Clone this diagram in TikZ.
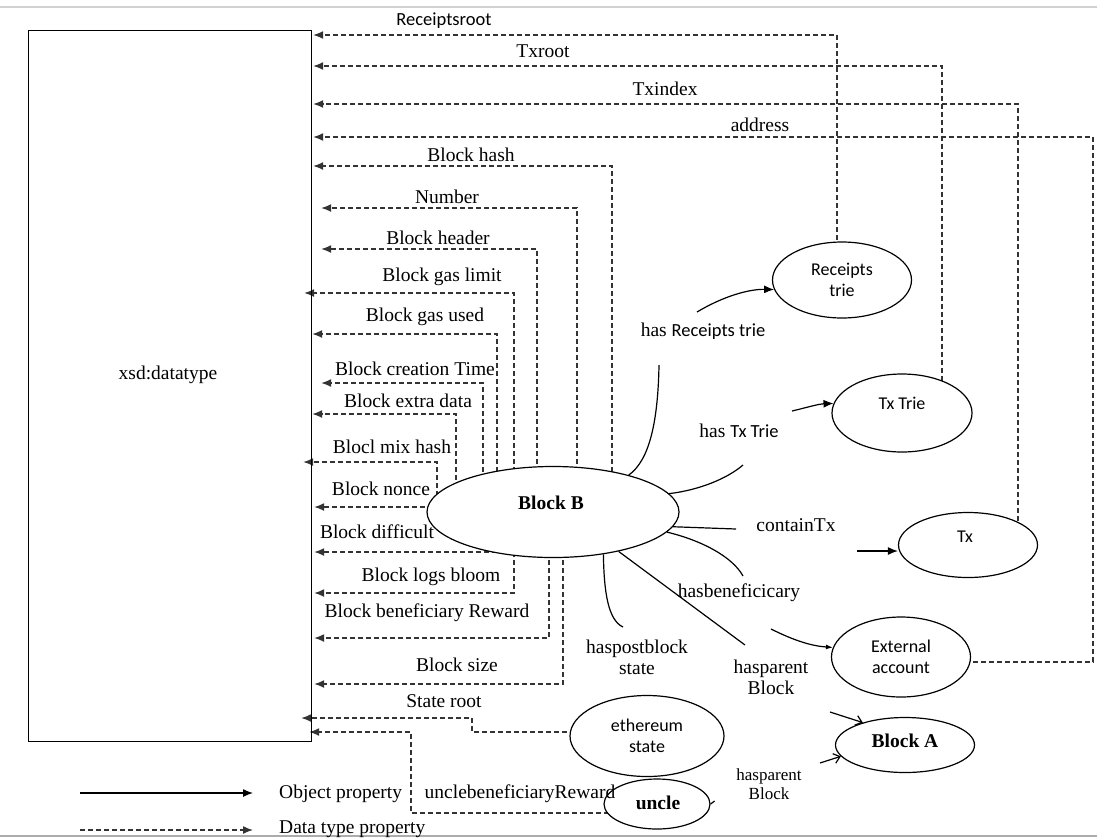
\documentclass[tikz,border=0pt]{standalone}
\usepackage{fontspec}
\setmainfont{Liberation Serif}
\newfontfamily\sfc{Carlito}
\newfontfamily\bserif{Liberation Serif Bold}
\usetikzlibrary{arrows.meta,calc,shapes.geometric}
\pgfdeclarelayer{bg}
\pgfsetlayers{bg,main}
\begin{document}
\begin{tikzpicture}[x=1pt,y=-1pt,
  lbl/.style={font=\fontsize{19.5}{21}\selectfont, inner sep=0pt, align=center},
  smlbl/.style={font=\fontsize{17}{19}\selectfont, inner sep=0pt, align=center},
  blbl/.style={font=\bserif\fontsize{19.5}{21}\selectfont, inner sep=0pt},
  slbl/.style={font=\sfc\fontsize{18}{21}\selectfont, inner sep=0pt, align=center},
  ell/.style={ellipse, draw, line width=1.2pt, fill=white, inner sep=0pt},
  dt/.style={-{Latex[length=10pt,width=8pt]}, dash pattern=on 5pt off 3pt, line width=1.4pt, draw=black!80},
  op/.style={line width=1.2pt},
  opa/.style={op, -{Latex[length=10pt,width=8pt]}},
  opo/.style={op, -{Straight Barb[length=6pt,width=10pt]}},
]
\useasboundingbox (0,0) rectangle (1097,839);
\draw[gray!35, line width=1.5pt] (0,7) -- (1097,7);
\draw[gray!65, line width=1.5pt] (0,836) -- (1097,836);

% main box
\node[draw, line width=1.2pt, minimum width=283pt, minimum height=711pt, inner sep=0pt, anchor=north west] (rect) at (28,30) {};
\node[lbl] (xsd) at (168,375) {xsd:datatype};

% ellipses
\node[ell, minimum width=252pt, minimum height=91pt] (BB) at (553,512) {};
\node[blbl] (BBl) at (551,503) {Block B};
\node[ell, slbl, minimum width=139pt, minimum height=76pt] (RT) at (842,280) {Receipts\\trie};
\node[ell, minimum width=140pt, minimum height=78pt] (TT) at (902,413) {};
\node[slbl] (TTl) at (902,403) {Tx Trie};
\node[ell, minimum width=139pt, minimum height=65pt] (TX) at (968,545) {};
\node[slbl] (TXl) at (965,537) {Tx};
\node[ell, slbl, minimum width=139pt, minimum height=80pt] (EA) at (901,657) {External\\account};
\node[ell, minimum width=139pt, minimum height=55pt] (BA) at (905,745) {};
\node[blbl] (BAl) at (905,741) {Block A};
\node[ell, slbl, minimum width=154pt, minimum height=81pt] (eth) at (647,736) {ethereum\\state};
\node[ell, minimum width=106pt, minimum height=50pt] (uncle) at (657,804) {};
\node[blbl] (unclel) at (658,803) {uncle};

% data type property labels
\node[slbl, font=\sfc\fontsize{18.5}{21}\selectfont] (l1) at (444,21) {Receiptsroot};
\node[lbl] (l2) at (543,51) {Txroot};
\node[lbl] (l3) at (665,89) {Txindex};
\node[lbl] (l4) at (760,125) {address};
\node[lbl] (l5) at (471,155) {Block hash};
\node[lbl] (l6) at (447,197) {Number};
\node[lbl] (l7) at (438,238) {Block header};
\node[lbl] (l8) at (442,277) {Block gas limit};
\node[lbl] (l9) at (425,317) {Block gas used};
\node[lbl] (l10) at (415,369) {Block creation Time};
\node[lbl] (l11) at (408,401) {Block extra data};
\node[lbl] (l12) at (392,447) {Blocl mix hash};
\node[lbl] (l13) at (381,489) {Block nonce};
\node[lbl] (l14) at (377,532) {Block difficult};
\node[lbl] (l15) at (431,577) {Block logs bloom};
\node[lbl] (l16) at (427,613) {Block beneficiary Reward};
\node[lbl] (l17) at (457,665) {Block size};
\node[lbl] (l18) at (444,701) {State root};
\node[lbl] (l19) at (520,794) {unclebeneficiaryReward};

% object property labels
\node[lbl] (o1) at (703,331) {has {\sfc\fontsize{18.5}{21}\selectfont Receipts trie}};
\node[lbl] (o2) at (739,431) {has {\sfc\fontsize{18.5}{21}\selectfont Tx Trie}};
\node[lbl] (o3) at (796,525) {containTx};
\node[lbl] (o4) at (739,593) {hasbeneficicary};
\node[lbl] (o5) at (637,657) {haspostblock\\state};
\node[lbl] (o6) at (771,677) {hasparent\\Block};
\node[smlbl] (o7) at (769,784) {hasparent\\Block};

% legend
\node[lbl, anchor=west] (lop) at (279,794) {Object property};
\node[lbl, anchor=west] (ldt) at (279,829) {Data type property};
\coordinate (lg1) at (80,793);
\coordinate (lg2) at (80,830);
\draw[opa, shorten >=26pt] (lg1) -- (lg1 -| lop.west);
\draw[dt, shorten >=26pt] (lg2) -- (lg2 -| ldt.west);

% dashed connectors (behind the ellipses)
\coordinate (c1) at (837,35);
\coordinate (c2) at (942,66);
\coordinate (c3) at (1018,104);
\coordinate (ad1) at (1093,662);
\coordinate (ad2) at (1093,137);
\coordinate (c5) at (612,166);
\coordinate (c6) at (577,208);
\coordinate (c7) at (537,249);
\coordinate (c8) at (514,293);
\coordinate (c9) at (497,334);
\coordinate (c10) at (483,383);
\coordinate (c11) at (456,414);
\coordinate (c12) at (437,462);
\coordinate (c13) at (430,507);
\coordinate (c14) at (430,552);
\coordinate (c15) at (514,593);
\coordinate (c16) at (549,638);
\coordinate (c17) at (563,684);
\coordinate (sr1) at (472,732);
\coordinate (sr2) at (472,718);
\coordinate (ub1) at (411,813);
\coordinate (ub2) at (411,732);
\begin{pgfonlayer}{bg}
\draw[dt] (RT.center -| c1) -- (c1) -- ($(rect.east |- c1)+(1,0)$);
\draw[dt] (TT.center -| c2) -- (c2) -- ($(rect.east |- c2)+(1,0)$);
\draw[dt] (TX.center -| c3) -- (c3) -- ($(rect.east |- c3)+(1,0)$);
\draw[dt] (EA.center |- ad1) -- (ad1) -- (ad2) -- ($(rect.east |- ad2)+(1,0)$);
\draw[dt] (BB.center -| c5) -- (c5) -- ($(rect.east |- c5)+(1,0)$);
\draw[dt] (BB.center -| c6) -- (c6) -- ($(rect.east |- c6)+(9,0)$);
\draw[dt] (BB.center -| c7) -- (c7) -- ($(rect.east |- c7)+(9,0)$);
\draw[dt] (BB.center -| c8) -- (c8) -- ($(rect.east |- c8)+(-8,0)$);
\draw[dt] (BB.center -| c9) -- (c9) -- ($(rect.east |- c9)+(0,0)$);
\draw[dt] (BB.center -| c10) -- (c10) -- ($(rect.east |- c10)+(9,0)$);
\draw[dt] (BB.center -| c11) -- (c11) -- ($(rect.east |- c11)+(0,0)$);
\draw[dt] (BB.center -| c12) -- (c12) -- ($(rect.east |- c12)+(-9,0)$);
\draw[dt] (BB.center |- c13) -- ($(rect.east |- c13)+(2,0)$);
\draw[dt] (BB.center |- c14) -- ($(rect.east |- c14)+(2,0)$);
\draw[dt] (BB.center -| c15) -- (c15) -- ($(rect.east |- c15)+(2,0)$);
\draw[dt] (BB.center -| c16) -- (c16) -- ($(rect.east |- c16)+(2,0)$);
\draw[dt] (BB.center -| c17) -- (c17) -- ($(rect.east |- c17)+(2,0)$);
\draw[dt] (eth.center |- sr1) -- (sr1) -- (sr2) -- ($(rect.east |- sr2)+(-11,0)$);
\draw[dt] (uncle.center |- ub1) -- (ub1) -- (ub2) -- ($(rect.east |- ub2)+(-3,0)$);
\end{pgfonlayer}

% object property connectors
\coordinate (hr1) at (659,365);
\coordinate (hr2) at (697,312);
\draw[op] (BB.26) .. controls (650,460) and (658,420) .. (hr1);
\draw[opa] (hr2) .. controls (722,297) and (748,289) .. (RT.188);
\coordinate (ht1) at (743,465);
\coordinate (ht2) at (792,411);
\draw[op] (BB.9) .. controls (700,490) and (728,478) .. (ht1);
\draw[opa] (ht2) .. controls (805,408) and (818,404) .. (TT.172);
\coordinate (ct1) at (736,529);
\coordinate (ct2) at (857,551);
\draw[op] (BB.-7) -- (ct1);
\draw[opa] (ct2) -- (ct2 -| TX.west);
\coordinate (hb1) at (743,576);
\coordinate (hb2) at (771,629);
\draw[op] (BB.-10) .. controls (700,540) and (732,556) .. (hb1);
\draw[op, -{Latex[length=7pt,width=5pt]}] (hb2) .. controls (795,641) and (812,646) .. (EA.172);
\coordinate (hp1) at (745,645);
\coordinate (hp2) at (830,712);
\draw[op] (BB.-31) -- (hp1);
\draw[opo] (hp2) -- (BA.152);
\coordinate (pb1) at (623,627);
\draw[op] (BB.-40) .. controls (604,592) and (608,620) .. (pb1);
\coordinate (hq) at (820,763);
\draw[opo] (hq) -- (BA.190);
\draw[op] (uncle.east) -- ++(4,-3);
\end{tikzpicture}
\end{document}
